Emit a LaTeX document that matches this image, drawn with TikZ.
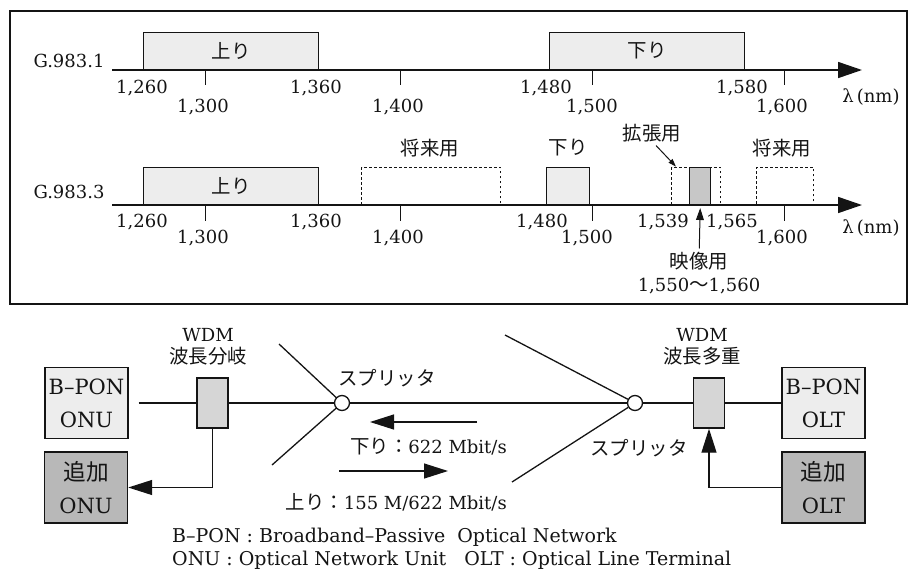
\documentclass[tikz,border=0pt]{standalone}
\usepackage{fontspec}
\setmainfont{DejaVu Serif}
\newfontfamily\jpfont[Scale=1.08]{Noto Sans CJK JP}
\usetikzlibrary{arrows.meta,positioning}
\newcommand{\ja}[1]{{\jpfont #1}}
\definecolor{bandfill}{gray}{0.93}
\definecolor{wdmfill}{gray}{0.84}
\definecolor{vidfill}{gray}{0.78}
\definecolor{addfill}{gray}{0.72}
\definecolor{ink}{gray}{0.08}

\begin{document}
\begin{tikzpicture}[x=1pt,y=-1pt,
  font=\fontsize{18}{22}\selectfont,color=ink,
  band/.style={draw,line width=1.4pt,fill=bandfill,inner sep=0pt,minimum height=37pt,anchor=south west},
  spare/.style={draw,line width=1.4pt,dash pattern=on 2.4pt off 2.6pt,inner sep=0pt,minimum height=37pt,anchor=south west},
  axis/.style={line width=1.6pt,-{Triangle[length=24pt,width=16pt]}},
  tick/.style={line width=1pt},
  unit/.style={draw,line width=1.4pt,fill=bandfill,minimum width=83pt,minimum height=71pt,inner sep=0pt,align=center,font=\fontsize{21}{33}\selectfont},
  addunit/.style={unit,fill=addfill},
  wdm/.style={draw,line width=1.4pt,fill=wdmfill,minimum width=31pt,minimum height=50pt,inner sep=0pt},
  split/.style={circle,draw,fill=white,line width=1.3pt,minimum size=15pt,inner sep=0pt},
  fiber/.style={line width=1.3pt},
  bigarr/.style={fiber,-{Triangle[length=24pt,width=15pt]}},
  thinarr/.style={line width=1pt,-{Triangle[length=#1,width=0.65*#1]}},
  legend/.style={anchor=west,inner sep=0pt,font=\fontsize{19}{22}\selectfont}]
\useasboundingbox (0,0) rectangle (916,571);
\draw[line width=1.2pt] (10,11) rectangle (907,304);

% G.983.1
\node (g1) at (69,61) {G.983.1};
\coordinate (a1s) at (112,70);
\coordinate (a1e) at (862,70);
\node[band,minimum width=175pt] (up1) at (143,70) {\ja{上り}};
\node[band,minimum width=195pt] (dn1) at (549,70) {\ja{下り}};
\draw[axis] (a1s) -- (a1e);
\foreach \x in {205,400,592,784} \draw[tick] (\x,70) -- (\x,85);
\foreach \x/\t in {142/{1,260},316/{1,360},546/{1,480},742/{1,580}}
  \node (r1n\x) at (\x,88) {\t};
\foreach \x/\t in {203/{1,300},398/{1,400},592/{1,500},782/{1,600}}
  \node (r1f\x) at (\x,107) {\t};
\node (lam1) at (871,97) {λ\,(nm)};

% G.983.3
\node (g3) at (69,192) {G.983.3};
\coordinate (a3s) at (112,205);
\coordinate (a3e) at (862,205);
\node[band,minimum width=175pt] (up3) at (143,205) {\ja{上り}};
\node[spare,minimum width=139pt] (fut3a) at (361,205) {};
\node[band,minimum width=43pt] (dn3) at (546,205) {};
\node[spare,minimum width=49pt] (ext3) at (671,205) {};
\node[band,fill=vidfill,minimum width=21pt] (vid3) at (689,205) {};
\node[spare,minimum width=57pt] (fut3b) at (756,205) {};
\draw[axis] (a3s) -- (a3e);
\foreach \x in {205,400,592,784} \draw[tick] (\x,205) -- (\x,221);
\foreach \x/\t in {142/{1,260},316/{1,360},542/{1,480},663/{1,539},732/{1,565}}
  \node (r3n\x) at (\x,222) {\t};
\foreach \x/\t in {203/{1,300},398/{1,400},587/{1,500},782/{1,600}}
  \node (r3f\x) at (\x,238) {\t};
\node (lam3) at (871,228) {λ\,(nm)};
\node (fut3alb) at (430,148) {\ja{将来用}};
\node (dn3lb) at (568,148) {\ja{下り}};
\node (fut3blb) at (782,148) {\ja{将来用}};
\node (ext3lb) at (652,133) {\ja{拡張用}};
\draw[thinarr=8pt] ([xshift=4pt]ext3lb.south) -- ([xshift=5pt]ext3.north west);
\node (vidlb) at (699,261) {\ja{映像用}};
\node (vidrg) at (699,286) {1,550\ja{〜}1,560};
\draw[thinarr=12pt] (vidlb) -- ([yshift=-3pt]vid3.south);

% B-PON network
\node[unit] (onu) at (86.5,403) {B--PON\\ONU};
\node[addunit] (aonu) at (86,487.5) {\ja{追加}\\ONU};
\node[wdm] (wdmL) at (212.5,403) {};
\node[split] (splL) at (342,403) {};
\node[split] (splR) at (635,403) {};
\node[wdm] (wdmR) at (709,403) {};
\node[unit] (olt) at (823.5,403) {B--PON\\OLT};
\node[addunit] (aolt) at (823.5,487.5) {\ja{追加}\\OLT};
\coordinate (fLa) at (279,344);
\coordinate (fLb) at (272,465);
\coordinate (fRa) at (505,335);
\coordinate (fRb) at (512,482);
\draw[fiber,shorten <=10pt] (onu.east) -- (wdmL.west);
\draw[fiber] (wdmL) -- (splL) -- (splR) -- (wdmR) -- (olt);
\draw[fiber] (fLa) -- (splL) -- (fLb);
\draw[fiber] (fRa) -- (splR) -- (fRb);
\draw[bigarr] (wdmL.south) |- (aonu.east);
\draw[bigarr] (aolt.west) -| (wdmR.south);
\node[align=center] (wdmLlb) at (208,347) {WDM\\\ja{波長分岐}};
\node[align=center] (wdmRlb) at (702,347) {WDM\\\ja{波長多重}};
\node (splLlb) at (387,378) {\ja{スプリッタ}};
\node (splRlb) at (639,448) {\ja{スプリッタ}};
\coordinate (dnS) at (477,422);
\coordinate (dnE) at (370,422);
\coordinate (upS) at (339,471);
\coordinate (upE) at (448,471);
\draw[bigarr] (dnS) -- (dnE);
\draw[bigarr] (upS) -- (upE);
\node[anchor=east,inner sep=0pt] (dnlb) at (507,447) {\ja{下り：}622 Mbit/s};
\node[anchor=east,inner sep=0pt] (uplb) at (507,502) {\ja{上り：}155 M/622 Mbit/s};
\node[legend] (leg1) at (172,537) {B--PON : Broadband--Passive\ \ Optical\ Network};
\node[legend] (leg2) at (172,560) {ONU : Optical\ Network\ Unit\ \ \ OLT : Optical\ Line\ Terminal};
\end{tikzpicture}
\end{document}
